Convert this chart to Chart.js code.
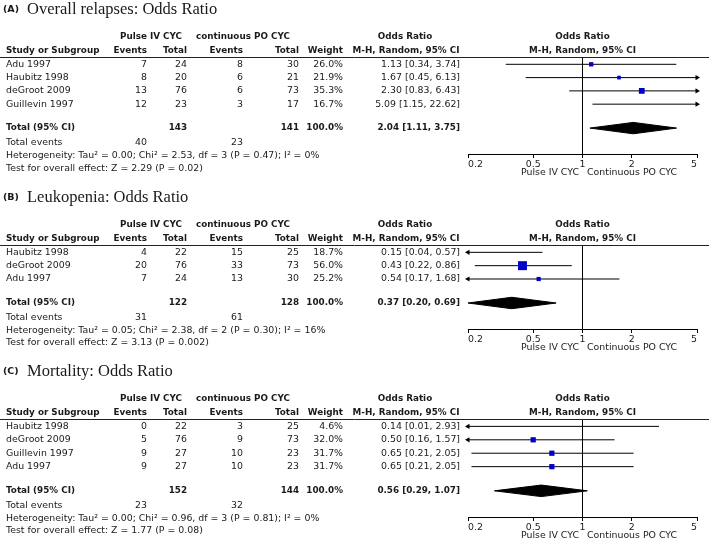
<!DOCTYPE html>
<html>
<head>
<meta charset="utf-8">
<script src="https://cdn.jsdelivr.net/npm/chart.js@4.4.1/dist/chart.umd.min.js"></script>
<style>
  html, body { margin: 0; padding: 0; background: #fff; }
  #wrap { position: relative; width: 709px; height: 548px; overflow: hidden; }
  canvas { position: absolute; left: 0; }
</style>
</head>
<body>
<div id="wrap">
  <canvas id="panelA" width="709" height="180" style="top:0px"></canvas>
  <canvas id="panelB" width="709" height="180" style="top:180px"></canvas>
  <canvas id="panelC" width="709" height="198" style="top:350px"></canvas>
</div>
<script>
// x axis of every forest plot
const orTicks = [0.2, 0.5, 1, 2, 5];

// (A) Overall relapses
const studiesA = ['Adu 1997', 'Haubitz 1998', 'deGroot 2009', 'Guillevin 1997'];
const ivEventsA = [7, 8, 13, 12];
const ivTotalA = [24, 20, 76, 23];
const poEventsA = [8, 6, 6, 3];
const poTotalA = [30, 21, 73, 17];
const weightA = [26.0, 21.9, 35.3, 16.7];
const orA = [1.13, 1.67, 2.30, 5.09];
const loA = [0.34, 0.45, 0.83, 1.15];
const hiA = [3.74, 6.13, 6.43, 22.62];
const totalsA = [143, 141];
const totalEventsA = [40, 23];
const pooledA = [2.04, 1.11, 3.75];

// (B) Leukopenia
const studiesB = ['Haubitz 1998', 'deGroot 2009', 'Adu 1997'];
const ivEventsB = [4, 20, 7];
const ivTotalB = [22, 76, 24];
const poEventsB = [15, 33, 13];
const poTotalB = [25, 73, 30];
const weightB = [18.7, 56.0, 25.2];
const orB = [0.15, 0.43, 0.54];
const loB = [0.04, 0.22, 0.17];
const hiB = [0.57, 0.86, 1.68];
const totalsB = [122, 128];
const totalEventsB = [31, 61];
const pooledB = [0.37, 0.20, 0.69];

// (C) Mortality
const studiesC = ['Haubitz 1998', 'deGroot 2009', 'Guillevin 1997', 'Adu 1997'];
const ivEventsC = [0, 5, 9, 9];
const ivTotalC = [22, 76, 27, 27];
const poEventsC = [3, 9, 10, 10];
const poTotalC = [25, 73, 23, 23];
const weightC = [4.6, 32.0, 31.7, 31.7];
const orC = [0.14, 0.50, 0.65, 0.65];
const loC = [0.01, 0.16, 0.21, 0.21];
const hiC = [2.93, 1.57, 2.05, 2.05];
const totalsC = [152, 144];
const totalEventsC = [23, 32];
const pooledC = [0.56, 0.29, 1.07];

const panels = [
  { id: 'panelA', tag: '(A)', title: 'Overall relapses: Odds Ratio',
    study: studiesA, ivE: ivEventsA, ivN: ivTotalA, poE: poEventsA, poN: poTotalA,
    weight: weightA, or: orA, lo: loA, hi: hiA, totals: totalsA, events: totalEventsA, pooled: pooledA,
    het: 'Heterogeneity: Tau² = 0.00; Chi² = 2.53, df = 3 (P = 0.47); I² = 0%',
    test: 'Test for overall effect: Z = 2.29 (P = 0.02)',
    pad: { top: 57, bottom: 12 } },
  { id: 'panelB', tag: '(B)', title: 'Leukopenia: Odds Ratio',
    study: studiesB, ivE: ivEventsB, ivN: ivTotalB, poE: poEventsB, poN: poTotalB,
    weight: weightB, or: orB, lo: loB, hi: hiB, totals: totalsB, events: totalEventsB, pooled: pooledB,
    het: 'Heterogeneity: Tau² = 0.05; Chi² = 2.38, df = 2 (P = 0.30); I² = 16%',
    test: 'Test for overall effect: Z = 3.13 (P = 0.002)',
    pad: { top: 65, bottom: 17 } },
  { id: 'panelC', tag: '(C)', title: 'Mortality: Odds Ratio',
    study: studiesC, ivE: ivEventsC, ivN: ivTotalC, poE: poEventsC, poN: poTotalC,
    weight: weightC, or: orC, lo: loC, hi: hiC, totals: totalsC, events: totalEventsC, pooled: pooledC,
    het: 'Heterogeneity: Tau² = 0.00; Chi² = 0.96, df = 3 (P = 0.81); I² = 0%',
    test: 'Test for overall effect: Z = 1.77 (P = 0.08)',
    pad: { top: 69, bottom: 17 } }
];

const SANS = '"DejaVu Sans", sans-serif';
const FS = 8.8;   // bold text
const FR = 9.4;   // regular text
const INK = '#1a1a1a';
const xMin = orTicks[0], xMax = orTicks[orTicks.length - 1];
const DH = 0.43; // diamond half height in row units

function fmtOR(e, l, h) {
  return e.toFixed(2) + ' [' + l.toFixed(2) + ', ' + h.toFixed(2) + ']';
}

function tablePlugin(pn) {
  return {
    id: 'forestTable',
    afterDraw(chart) {
      const { ctx, chartArea: a, scales: { x, y } } = chart;
      const T = a.top;
      const n = pn.study.length;
      ctx.save();
      ctx.fillStyle = INK;
      ctx.textBaseline = 'middle';

      // title
      ctx.textAlign = 'left';
      ctx.font = 'bold 9.5px ' + SANS;
      ctx.fillText(pn.tag, 3, T - 47.5);
      ctx.font = '16.5px "Liberation Serif", serif';
      ctx.fillText(pn.title, 27, T - 47.5);

      // header
      const h1 = T - 20, h2 = T - 6.5;
      ctx.font = 'bold ' + FS + 'px ' + SANS;
      ctx.textAlign = 'center';
      ctx.fillText('Pulse IV CYC', 151, h1);
      ctx.fillText('continuous PO CYC', 243, h1);
      ctx.fillText('Odds Ratio', 405, h1);
      ctx.fillText('M-H, Random, 95% CI', 406, h2);
      const mid = (a.left + a.right) / 2;
      ctx.fillText('Odds Ratio', mid, h1);
      ctx.fillText('M-H, Random, 95% CI', mid, h2);
      ctx.textAlign = 'left';
      ctx.fillText('Study or Subgroup', 6, h2);
      ctx.textAlign = 'right';
      ctx.fillText('Events', 147, h2);
      ctx.fillText('Total', 187, h2);
      ctx.fillText('Events', 243, h2);
      ctx.fillText('Total', 299, h2);
      ctx.fillText('Weight', 343, h2);

      ctx.strokeStyle = '#222';
      ctx.lineWidth = 1;
      ctx.beginPath();
      ctx.moveTo(0, Math.round(T) + 0.5);
      ctx.lineTo(chart.width, Math.round(T) + 0.5);
      ctx.stroke();

      // study rows
      ctx.font = FR + 'px ' + SANS;
      for (let i = 0; i < n; i++) {
        const yy = y.getPixelForValue(i);
        ctx.textAlign = 'left';
        ctx.fillText(pn.study[i], 6, yy);
        ctx.textAlign = 'right';
        ctx.fillText(String(pn.ivE[i]), 147, yy);
        ctx.fillText(String(pn.ivN[i]), 187, yy);
        ctx.fillText(String(pn.poE[i]), 243, yy);
        ctx.fillText(String(pn.poN[i]), 299, yy);
        ctx.fillText(pn.weight[i].toFixed(1) + '%', 343, yy);
        ctx.fillText(fmtOR(pn.or[i], pn.lo[i], pn.hi[i]), 460, yy);
      }

      // total row
      const ty = y.getPixelForValue(n + 0.8);
      ctx.font = 'bold ' + FS + 'px ' + SANS;
      ctx.textAlign = 'left';
      ctx.fillText('Total (95% CI)', 6, ty);
      ctx.textAlign = 'right';
      ctx.fillText(String(pn.totals[0]), 187, ty);
      ctx.fillText(String(pn.totals[1]), 299, ty);
      ctx.fillText('100.0%', 343, ty);
      ctx.fillText(fmtOR(pn.pooled[0], pn.pooled[1], pn.pooled[2]), 460, ty);

      ctx.font = FR + 'px ' + SANS;
      ctx.textAlign = 'left';
      ctx.fillText('Total events', 6, ty + 14.5);
      ctx.fillText(pn.het, 6, ty + 27.5);
      ctx.fillText(pn.test, 6, ty + 40);
      ctx.textAlign = 'right';
      ctx.fillText(String(pn.events[0]), 147, ty + 14.5);
      ctx.fillText(String(pn.events[1]), 243, ty + 14.5);

      // favours labels
      const x1 = x.getPixelForValue(1);
      ctx.fillText('Pulse IV CYC', x1 - 3.5, a.bottom + 19);
      ctx.textAlign = 'left';
      ctx.fillText('Continuous PO CYC', x1 + 4.5, a.bottom + 19);
      ctx.restore();
    }
  };
}

function buildDatasets(pn) {
  const n = pn.study.length;
  const ds = [];
  // study squares, size from weight
  ds.push({
    data: pn.or.map((v, i) => ({ x: v, y: i })),
    pointStyle: 'rect',
    pointRadius: pn.weight.map(w => (0.155 * w + 0.3) / Math.SQRT2),
    pointBackgroundColor: '#0000c8',
    pointBorderWidth: 0,
    clip: 0,
    order: 0
  });
  // confidence intervals, arrow when outside the axis
  pn.lo.forEach((l, i) => {
    const h = pn.hi[i];
    ds.push({
      data: [{ x: Math.max(l, xMin), y: i }, { x: Math.min(h, xMax), y: i }],
      showLine: true,
      borderColor: '#000',
      borderWidth: 1,
      pointStyle: 'triangle',
      pointRotation: [-90, 90],
      pointRadius: [l < xMin ? 3 : 0, h > xMax ? 3 : 0],
      pointBackgroundColor: '#000',
      pointBorderWidth: 0,
      clip: false,
      order: 1
    });
  });
  // pooled diamond
  const t = n + 0.8;
  const [est, lo, hi] = pn.pooled;
  ds.push({
    data: [{ x: lo, y: t }, { x: est, y: t - DH }, { x: hi, y: t }],
    showLine: true, borderWidth: 1, borderColor: '#000',
    pointRadius: 0, backgroundColor: '#000', fill: '+1', order: 1
  });
  ds.push({
    data: [{ x: lo, y: t }, { x: est, y: t + DH }, { x: hi, y: t }],
    showLine: true, borderWidth: 1, borderColor: '#000',
    pointRadius: 0, backgroundColor: '#000', fill: false, order: 1
  });
  return ds;
}

panels.forEach(pn => {
  const n = pn.study.length;
  new Chart(document.getElementById(pn.id), {
    type: 'scatter',
    data: { datasets: buildDatasets(pn) },
    options: {
      responsive: false,
      animation: false,
      devicePixelRatio: 1,
      layout: { padding: { top: pn.pad.top, bottom: pn.pad.bottom, left: 468, right: 12 } },
      plugins: { legend: { display: false }, tooltip: { enabled: false } },
      scales: {
        x: {
          type: 'logarithmic',
          position: 'bottom',
          min: xMin,
          max: xMax,
          afterBuildTicks: s => { s.ticks = orTicks.map(v => ({ value: v })); },
          afterFit: s => { s.height = 14; },
          ticks: {
            callback: v => String(v),
            autoSkip: false,
            maxRotation: 0,
            align: 'inner',
            padding: 1,
            color: INK,
            font: { family: SANS, size: 9.4 }
          },
          grid: {
            color: c => (c.tick && c.tick.value === 1 ? '#000' : 'rgba(0,0,0,0)'),
            tickColor: '#000',
            tickLength: 4,
            lineWidth: 1
          },
          border: { display: true, color: '#000', width: 1 }
        },
        y: {
          type: 'linear',
          display: false,
          reverse: true,
          min: -0.55,
          max: n + 2.75
        }
      }
    },
    plugins: [tablePlugin(pn)]
  });
});
</script>
</body>
</html>
